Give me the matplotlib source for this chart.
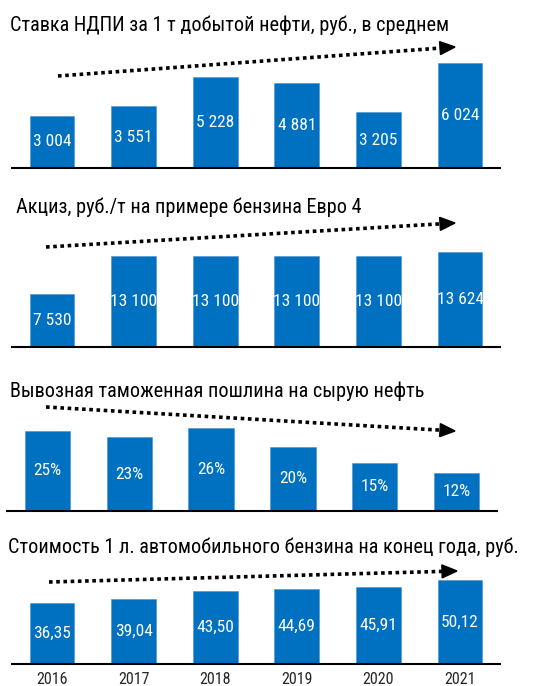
import matplotlib
matplotlib.use("Agg")
import matplotlib.pyplot as plt
from matplotlib.lines import Line2D
from matplotlib.patches import Polygon
import numpy as np

plt.rcParams['font.family'] = ['Roboto Condensed', 'Liberation Sans Narrow', 'DejaVu Sans']

# data
years = ['2016', '2017', '2018', '2019', '2020', '2021']
ndpi = [3004, 3551, 5228, 4881, 3205, 6024]
akciz = [7530, 13100, 13100, 13100, 13100, 13624]
poshlina = [25, 23, 26, 20, 15, 12]
benzin = [36.35, 39.04, 43.50, 44.69, 45.91, 50.12]

titles = [
    "Ставка НДПИ за 1 т добытой нефти, руб., в среднем",
    "Акциз, руб./т на примере бензина Евро 4",
    "Вывозная таможенная пошлина на сырую нефть",
    "Стоимость 1 л. автомобильного бензина на конец года, руб.",
]


def fmt_thousands(v):
    return f"{v:,.0f}".replace(",", " ")


def fmt_pct(v):
    return f"{v:.0f}%"


def fmt_dec(v):
    return f"{v:.2f}".replace(".", ",")


series = [ndpi, akciz, poshlina, benzin]
formats = [fmt_thousands, fmt_thousands, fmt_pct, fmt_dec]

W, H = 559, 686
BLUE = "#0070C0"

# layout in pixels: axes left, right, top, baseline; ymax; title x, baseline; arrow start, tip
layout = [
    dict(l=12, r=500, top=40, base=168, ymax=7344, tx=10, ty=31, a0=(58, 76), a1=(455, 47)),
    dict(l=12, r=500, top=220, base=347, ymax=18213, tx=16, ty=213, a0=(46, 247), a1=(455, 223)),
    dict(l=7, r=497, top=395, base=511, ymax=36.2, tx=10, ty=397, a0=(46, 407), a1=(455, 431)),
    dict(l=12, r=500, top=560, base=664, ymax=62.05, tx=8, ty=553, a0=(49, 582), a1=(457, 571)),
]


def fx(x):
    return x / W


def fy(y):
    return 1 - y / H


fig = plt.figure(figsize=(W / 100, H / 100), dpi=100)

x = np.arange(len(years))
for i, (vals, fmt, lay, title) in enumerate(zip(series, formats, layout, titles)):
    ax = fig.add_axes([fx(lay['l']), fy(lay['base']),
                       (lay['r'] - lay['l']) / W, (lay['base'] - lay['top']) / H])
    ax.bar(x, vals, width=0.55, color=BLUE, edgecolor='#4a90d0', linewidth=0.4)
    for xi, v in zip(x, vals):
        ax.text(xi, v / 2, fmt(v), ha='center', va='center', color='white',
                fontsize=12.5)
    ax.set_xlim(-0.49, 5.49)
    ax.set_ylim(0, lay['ymax'])
    for s in ['top', 'right', 'left']:
        ax.spines[s].set_visible(False)
    ax.spines['bottom'].set_linewidth(1.5)
    ax.set_yticks([])
    if i == 3:
        ax.set_xticks(x, years)
        ax.tick_params(axis='x', length=0, pad=6, labelsize=11.5, labelcolor='#262626')
    else:
        ax.set_xticks([])

    fig.text(fx(lay['tx']), fy(lay['ty']), title, ha='left', va='baseline',
             fontsize=14.6, color='black')

    # dotted trend arrow
    (x0, y0), (x1, y1) = lay['a0'], lay['a1']
    d = np.array([x1 - x0, y1 - y0], dtype=float)
    d /= np.hypot(*d)
    nrm = np.array([-d[1], d[0]])
    hl, hw = 15, 6.5
    base = np.array([x1, y1]) - d * hl
    fig.add_artist(Line2D([fx(x0), fx(base[0])], [fy(y0), fy(base[1])],
                          transform=fig.transFigure, color='black', lw=2.6,
                          linestyle=(0, (1, 1))))
    tri = [np.array([x1, y1]), base + nrm * hw, base - nrm * hw]
    fig.add_artist(Polygon([(fx(p[0]), fy(p[1])) for p in tri], closed=True,
                           transform=fig.transFigure, color='black'))

fig.savefig("out.png", dpi=100)
